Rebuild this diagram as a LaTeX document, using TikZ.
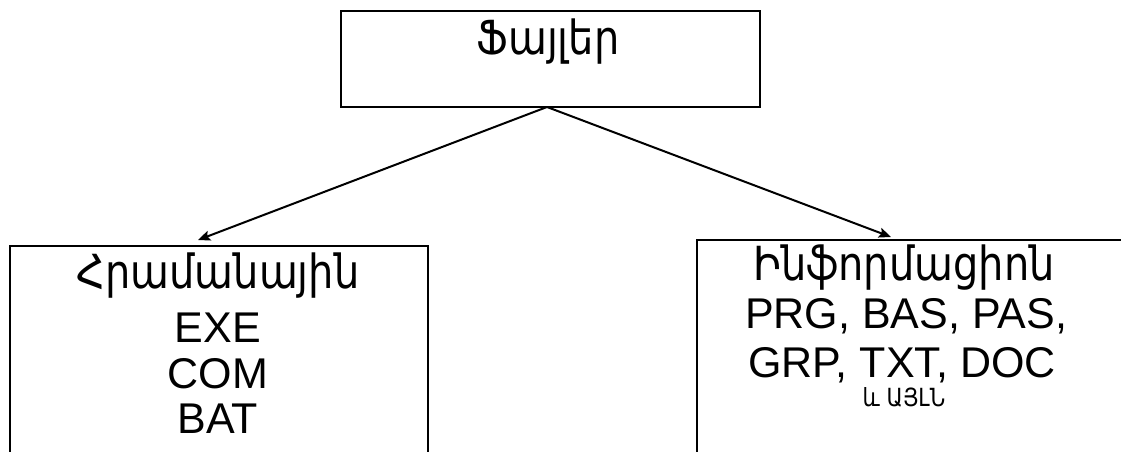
\documentclass[tikz,border=0pt]{standalone}
\usepackage{fontspec}
\setmainfont{Liberation Sans}
\newfontfamily\armfont[FakeStretch=0.85]{DejaVu Sans}
\usetikzlibrary{arrows.meta}
\begin{document}
\begin{tikzpicture}[x=1pt,y=-1pt,
  box/.style={draw,line width=2pt,inner sep=0pt,anchor=north west},
  lat/.style={anchor=base,inner sep=0pt,font=\fontsize{43}{43}\selectfont},
  arm/.style={anchor=base,inner sep=0pt,font=\armfont\fontsize{47}{47}\selectfont},
  armsm/.style={anchor=base,inner sep=0pt,font=\armfont\fontsize{25}{25}\selectfont},
  conn/.style={line width=2pt,-{Stealth[length=12pt,width=10pt,inset=2pt]}}]
\useasboundingbox (0,0) rectangle (1121,452);
\clip (0,0) rectangle (1121,452);
% boxes
\node[box,minimum width=419pt,minimum height=96pt] (top) at (340,10) {};
\node[box,minimum width=418pt,minimum height=240pt] (left) at (9,245) {};
\node[box,minimum width=440pt,minimum height=240pt] (right) at (696,239) {};
% texts
\node[arm] (ttop) at (548,55) {Ֆայլեր};
\node[arm] (t1) at (218,288) {Հրամանային};
\node[lat] (t2) at (218,342) {EXE};
\node[lat] (t3) at (218,388) {COM};
\node[lat] (t4) at (218,433) {BAT};
\node[arm] (r1) at (904,280) {Ինֆորմացիոն};
\node[lat] (r2) at (906,328) {PRG, BAS, PAS,};
\node[lat] (r3) at (902,377) {GRP, TXT, DOC};
\node[armsm] (r4) at (904,406) {և ԱՅԼՆ};
% connectors
\coordinate (apex) at (547,107);
\coordinate (ltip) at (198,240);
\coordinate (rtip) at (891,237);
\draw[conn] (apex) -- (ltip);
\draw[conn] (apex) -- (rtip);
\end{tikzpicture}
\end{document}
